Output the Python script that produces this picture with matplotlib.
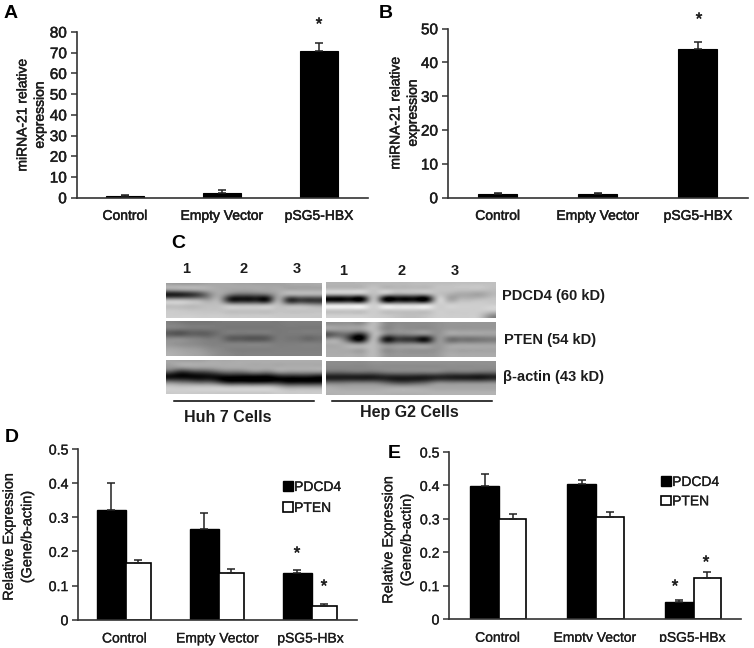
import matplotlib
matplotlib.use('Agg')
import matplotlib.pyplot as plt
import matplotlib.patheffects as pe
from matplotlib.transforms import Bbox
import numpy as np

plt.rcParams['font.family'] = ['Liberation Sans', 'DejaVu Sans']
plt.rcParams['font.size'] = 10

W, H = 754, 648
TEXT_COL = '#1c1c1c'
AXIS_COL = '#333333'

# panels A and B
mirna_labels_a = ['Control', 'Empty Vector', 'pSG5-HBX']
mirna_a = [0.7, 2.5, 71]
mirna_a_err = [0.5, 1.0, 3.5]
mirna_b = [1.0, 1.0, 44]
mirna_b_err = [0.3, 0.3, 2.0]

# panels D and E
group_labels = ['Control', 'Empty Vector', 'pSG5-HBx']
pdcd4_d = [0.32, 0.265, 0.137]
pdcd4_d_err = [0.08, 0.048, 0.008]
pten_d = [0.165, 0.137, 0.04]
pten_d_err = [0.01, 0.011, 0.007]
pdcd4_e = [0.397, 0.405, 0.052]
pdcd4_e_err = [0.036, 0.012, 0.005]
pten_e = [0.298, 0.305, 0.124]
pten_e_err = [0.016, 0.016, 0.016]

# panel C, grey levels (rows top to bottom)
blot_pdcd4_huh = [
    [165, 163, 163, 165, 168, 168, 168, 165, 165, 163, 163, 163, 165, 168, 168, 170],
    [150, 155, 160, 165, 170, 170, 165, 162, 162, 165, 165, 170, 170, 170, 170, 170],
    [30, 35, 50, 80, 135, 165, 115, 90, 90, 95, 110, 165, 165, 165, 165, 165],
    [175, 175, 170, 165, 165, 165, 50, 25, 25, 25, 40, 165, 65, 55, 55, 55],
    [195, 195, 190, 190, 190, 190, 180, 175, 175, 175, 180, 190, 165, 165, 160, 150],
    [200, 198, 195, 195, 195, 195, 195, 195, 195, 195, 195, 195, 195, 195, 195, 195],
    [205, 205, 205, 203, 203, 203, 200, 200, 200, 200, 200, 200, 200, 200, 200, 200],
]
blot_pten_huh = [
    [130, 125, 120, 120, 120, 122, 122, 122, 122, 122, 122, 122, 125, 125, 125, 125],
    [125, 122, 120, 120, 120, 120, 120, 120, 120, 120, 120, 120, 122, 122, 122, 122],
    [90, 85, 95, 95, 100, 115, 120, 118, 118, 118, 120, 120, 122, 122, 122, 122],
    [135, 135, 130, 125, 120, 120, 95, 90, 85, 85, 95, 120, 118, 115, 105, 110],
    [150, 145, 140, 135, 130, 128, 125, 125, 125, 125, 125, 125, 125, 125, 125, 125],
    [165, 160, 155, 150, 140, 135, 130, 128, 128, 128, 128, 128, 128, 128, 128, 128],
    [175, 170, 165, 160, 150, 140, 135, 130, 130, 130, 130, 130, 130, 130, 130, 130],
]
blot_actin_huh = [
    [165, 165, 165, 165, 170, 170, 170, 172, 172, 172, 172, 172, 172, 172, 172, 172],
    [155, 160, 165, 165, 165, 168, 170, 170, 170, 170, 170, 170, 172, 172, 172, 172],
    [90, 60, 70, 80, 90, 110, 120, 120, 130, 135, 130, 150, 150, 150, 150, 150],
    [15, 8, 8, 10, 15, 15, 15, 12, 10, 10, 10, 30, 35, 35, 35, 25],
    [110, 100, 90, 80, 80, 50, 20, 20, 15, 15, 20, 25, 10, 10, 10, 10],
    [195, 190, 190, 190, 190, 185, 175, 175, 175, 175, 175, 160, 140, 140, 140, 140],
    [205, 205, 205, 205, 205, 205, 205, 205, 205, 205, 205, 205, 200, 200, 200, 200],
]
blot_pdcd4_hep = [
    [180, 180, 180, 182, 185, 185, 185, 185, 188, 188, 190, 190, 192, 192, 192, 192],
    [190, 190, 190, 192, 195, 190, 188, 188, 190, 190, 195, 195, 195, 195, 195, 190],
    [170, 170, 170, 170, 190, 170, 150, 150, 150, 155, 190, 180, 170, 168, 165, 180],
    [5, 5, 5, 20, 185, 20, 5, 5, 5, 10, 190, 175, 180, 185, 190, 195],
    [205, 205, 205, 205, 205, 200, 195, 195, 195, 200, 205, 205, 205, 205, 205, 205],
    [205, 205, 205, 205, 205, 205, 205, 205, 205, 205, 205, 205, 205, 205, 205, 205],
    [205, 205, 205, 205, 205, 200, 195, 190, 190, 195, 205, 205, 205, 205, 195, 150],
]
blot_pten_hep = [
    [150, 150, 150, 155, 185, 145, 140, 140, 140, 140, 145, 150, 150, 150, 150, 150],
    [155, 155, 155, 160, 185, 145, 145, 145, 145, 145, 145, 155, 155, 155, 155, 155],
    [95, 110, 70, 60, 180, 130, 120, 125, 130, 130, 145, 160, 160, 160, 160, 160],
    [160, 140, 40, 30, 180, 45, 50, 55, 40, 25, 140, 120, 115, 115, 120, 125],
    [170, 170, 160, 160, 185, 135, 135, 140, 140, 135, 150, 155, 160, 160, 160, 160],
    [170, 170, 170, 170, 185, 150, 150, 150, 150, 150, 150, 165, 165, 165, 165, 165],
    [172, 172, 172, 172, 185, 155, 150, 150, 150, 150, 155, 170, 170, 170, 170, 170],
]
blot_actin_hep = [
    [140, 140, 140, 140, 145, 145, 145, 145, 145, 145, 145, 145, 145, 145, 145, 145],
    [135, 135, 135, 135, 138, 140, 140, 140, 140, 140, 140, 140, 140, 140, 140, 140],
    [95, 95, 100, 100, 100, 110, 115, 115, 115, 115, 115, 105, 105, 105, 100, 100],
    [30, 30, 30, 28, 30, 35, 30, 30, 28, 30, 38, 35, 30, 28, 25, 35],
    [110, 110, 115, 115, 115, 100, 80, 75, 85, 100, 125, 125, 125, 125, 125, 130],
    [170, 165, 165, 165, 165, 165, 165, 165, 165, 165, 165, 165, 165, 165, 165, 165],
    [178, 178, 178, 178, 178, 178, 178, 178, 178, 178, 178, 178, 178, 178, 178, 178],
]
blots_left = [blot_pdcd4_huh, blot_pten_huh, blot_actin_huh]
blots_right = [blot_pdcd4_hep, blot_pten_hep, blot_actin_hep]
blot_labels = ['PDCD4 (60 kD)', 'PTEN (54 kD)', 'β-actin (43 kD)']
lane_labels = ['1', '2', '3']

fig = plt.figure(figsize=(W / 100, H / 100), dpi=100, facecolor='white')


def px_axes(left, top, right, bottom):
    return fig.add_axes([left / W, 1 - bottom / H, (right - left) / W, (bottom - top) / H])


def px_text(x, y, s, **kw):
    kw.setdefault('ha', 'center')
    kw.setdefault('va', 'center')
    kw.setdefault('color', TEXT_COL)
    return fig.text(x / W, 1 - y / H, s, **kw)


def heavy(txt, w=0.35):
    txt.set_path_effects([pe.withStroke(linewidth=w, foreground=TEXT_COL)])


def style_axes(ax, ymax, yticks, yticklabels, xlabels, pad, stroke, ysize):
    for s in ['top', 'right']:
        ax.spines[s].set_visible(False)
    for s in ['left', 'bottom']:
        ax.spines[s].set_color(AXIS_COL)
        ax.spines[s].set_linewidth(1.2)
    ax.set_xlim(-0.5, 2.5)
    ax.set_ylim(0, ymax)
    ax.set_yticks(yticks)
    ax.set_yticklabels(yticklabels)
    ax.set_xticks(range(3))
    ax.set_xticklabels(xlabels)
    ax.tick_params(axis='x', length=0, pad=pad, labelcolor=TEXT_COL)
    ax.tick_params(axis='y', length=4, width=1.1, color=AXIS_COL, pad=3, labelcolor=TEXT_COL,
                   labelsize=ysize)
    for lab in ax.get_xticklabels() + ax.get_yticklabels():
        heavy(lab, stroke)


def single_bars(ax, values, errs, width):
    ax.bar(range(3), values, width=width, color='black', edgecolor='black', linewidth=0.8)
    ax.errorbar(range(3), values, yerr=[[0, 0, 0], errs], fmt='none', ecolor='#222222',
                elinewidth=1.1, capsize=2.6, capthick=1.1)


def paired_bars(ax, black, black_err, white, white_err, split, bw, ww):
    x = np.arange(3) + split
    b1 = ax.bar(x - bw / 2, black, width=bw, color='black', edgecolor='black', linewidth=1.0,
                label='PDCD4')
    b2 = ax.bar(x + ww / 2, white, width=ww, color='white', edgecolor='black', linewidth=1.2,
                label='PTEN')
    ax.errorbar(x - bw / 2, black, yerr=[[0, 0, 0], black_err], fmt='none', ecolor='#222222',
                elinewidth=1.1, capsize=2.6, capthick=1.1)
    ax.errorbar(x + ww / 2, white, yerr=[[0, 0, 0], white_err], fmt='none', ecolor='#222222',
                elinewidth=1.1, capsize=2.6, capthick=1.1)
    return b1, b2


# A
ax_a = px_axes(76.5, 32, 367.5, 197.7)
single_bars(ax_a, mirna_a, mirna_a_err, 0.4)
style_axes(ax_a, 80, range(0, 81, 10), [str(v) for v in range(0, 81, 10)], mirna_labels_a, 8, 0.35, 11)

# B
ax_b = px_axes(447.7, 28.7, 748, 197.7)
single_bars(ax_b, mirna_b, mirna_b_err, 0.39)
style_axes(ax_b, 50, range(0, 51, 10), [str(v) for v in range(0, 51, 10)], mirna_labels_a, 8, 0.35, 11)

# D
tick_05 = [0, 0.1, 0.2, 0.3, 0.4, 0.5]
tick_05_labels = ['0', '0.1', '0.2', '0.3', '0.4', '0.5']
ax_d = px_axes(78, 449, 357, 619.7)
bars_d = paired_bars(ax_d, pdcd4_d, pdcd4_d_err, pten_d, pten_d_err, 0.015, 0.31, 0.27)
style_axes(ax_d, 0.5, tick_05, tick_05_labels, group_labels, 8.5, 0.2, 10.2)

# E
ax_e = px_axes(449, 452, 741, 619)
bars_e = paired_bars(ax_e, pdcd4_e, pdcd4_e_err, pten_e, pten_e_err, 0.015, 0.30, 0.28)
style_axes(ax_e, 0.5, tick_05, tick_05_labels, group_labels, 8.5, 0.2, 10.2)
# bottom of these labels is cut off in the original figure
cut = Bbox([[0, (H - 642)], [W, H]])
for lab in ax_e.get_xticklabels():
    lab.set_clip_box(cut)
    lab.set_clip_on(True)

for ax, bars, pos, spacing in [(ax_d, bars_d, (283, 480), 0.5), (ax_e, bars_e, (661, 475), 0.38)]:
    leg = ax.legend(bars, ['PDCD4', 'PTEN'], loc='upper left',
                    bbox_to_anchor=(pos[0] / W, 1 - pos[1] / H), bbox_transform=fig.transFigure,
                    frameon=False, fontsize=10, handlelength=0.7, handleheight=0.7,
                    handletextpad=0.1, labelspacing=spacing, borderpad=0, borderaxespad=0)
    for t in leg.get_texts():
        t.set_color(TEXT_COL)
        heavy(t, 0.2)

# C
rows_left = [(283, 318), (321, 356), (360, 394)]
rows_right = [(282, 318), (322, 357), (361, 395)]
for (top, bottom), blot in zip(rows_left, blots_left):
    ax = px_axes(166, top, 322, bottom)
    ax.imshow(np.array(blot), cmap='gray', vmin=0, vmax=255, aspect='auto', interpolation='lanczos')
    ax.axis('off')
for (top, bottom), blot in zip(rows_right, blots_right):
    ax = px_axes(326, top, 496, bottom)
    ax.imshow(np.array(blot), cmap='gray', vmin=0, vmax=255, aspect='auto', interpolation='lanczos')
    ax.axis('off')

for x, lab in zip([186, 244, 297], lane_labels):
    px_text(x, 269, lab, fontsize=10.5, fontweight='bold')
for x, lab in zip([343, 402, 455], lane_labels):
    px_text(x, 271, lab, fontsize=10.5, fontweight='bold')

for x, y, lab in zip([502, 504, 503], [296, 340, 377], blot_labels):
    px_text(x, y, lab, ha='left', fontsize=10.5, fontweight='bold')

fig.add_artist(plt.Line2D([174 / W, 314 / W], [1 - 401 / H] * 2, color='black', lw=1.1))
fig.add_artist(plt.Line2D([332 / W, 492 / W], [1 - 401 / H] * 2, color='black', lw=1.1))
px_text(228, 417, 'Huh 7 Cells', fontsize=11.5, fontweight='bold')
px_text(409, 413, 'Hep G2 Cells', fontsize=11.5, fontweight='bold')

# y labels
heavy(px_text(31, 115, 'miRNA-21 relative\nexpression', rotation=90, linespacing=1.3))
heavy(px_text(404, 113, 'miRNA-21 relative\nexpression', rotation=90, linespacing=1.3))
heavy(px_text(18, 537, 'Relative Expression\n(Gene/b-actin)', rotation=90, fontsize=10.4, linespacing=1.4), 0.2)
heavy(px_text(397.5, 540, 'Relative Expression\n(Gene/b-actin)', rotation=90, fontsize=10.4, linespacing=1.4), 0.2)

# panel letters
for x, y, letter in [(11, 13, 'A'), (386, 13, 'B'), (178, 243, 'C'), (12, 438, 'D'), (394, 454, 'E')]:
    px_text(x, y, letter, fontsize=14, fontweight='bold', color='black')

# significance stars
for x, y in [(319, 22), (699, 17), (297, 551), (324, 584), (675, 584), (706, 560)]:
    heavy(px_text(x, y + 3, '*', fontsize=12.5), 0.3)

fig.savefig('out.png', dpi=100)
